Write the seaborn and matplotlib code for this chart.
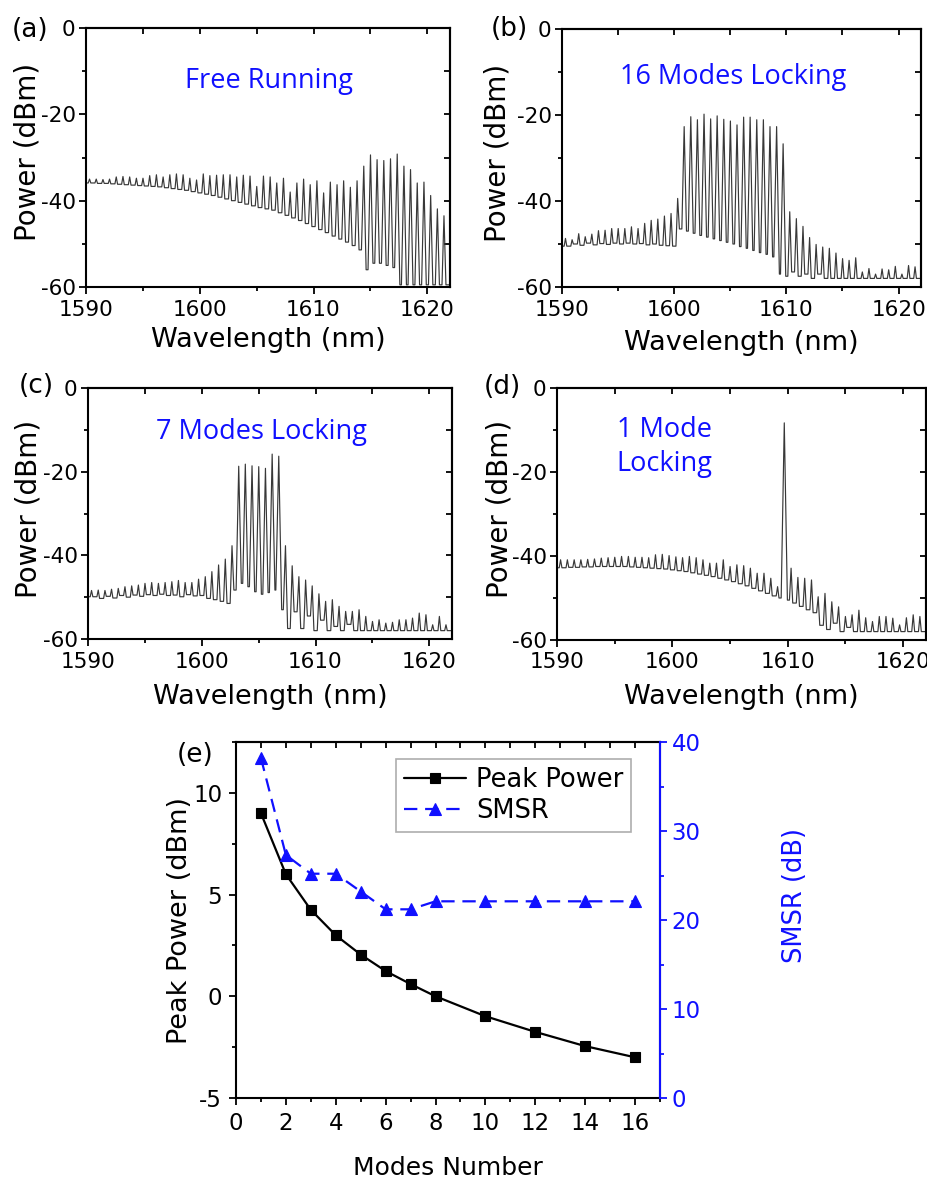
import numpy as np
import pandas as pd
import matplotlib
matplotlib.use("Agg")
import matplotlib.pyplot as plt
import seaborn as sns
from matplotlib.ticker import MultipleLocator

# ---------------- data ----------------
MODE_WL = [1590.31, 1590.90, 1591.49, 1592.07, 1592.66, 1593.25, 1593.84, 1594.43, 1595.01,
           1595.60, 1596.19, 1596.78, 1597.37, 1597.95, 1598.54, 1599.13, 1599.72, 1600.31,
           1600.89, 1601.48, 1602.07, 1602.66, 1603.25, 1603.83, 1604.42, 1605.01, 1605.60,
           1606.19, 1606.77, 1607.36, 1607.95, 1608.54, 1609.13, 1609.71, 1610.30, 1610.89,
           1611.48, 1612.07, 1612.65, 1613.24, 1613.83, 1614.42, 1615.01, 1615.59, 1616.18,
           1616.77, 1617.36, 1617.95, 1618.53, 1619.12, 1619.71, 1620.30, 1620.89, 1621.47]

# (a) free running: mode peak power and floor level after each mode (dBm)
peak_a = [-35.0, -35.0, -35.1, -35.0, -34.5, -34.4, -34.5, -34.8, -34.8, -34.2, -34.0, -34.5,
          -34.0, -33.8, -34.0, -34.8, -35.2, -33.8, -34.2, -34.1, -34.0, -34.0, -34.5, -34.1,
          -34.3, -36.7, -34.3, -34.5, -35.9, -34.8, -38.0, -35.9, -35.0, -36.3, -35.4, -38.2,
          -35.7, -36.3, -35.4, -36.9, -35.4, -32.0, -29.4, -30.5, -30.7, -30.3, -29.2, -32.0,
          -32.8, -35.9, -35.7, -38.8, -41.9, -43.5]
floor_a = [-35.9, -36.0, -36.0, -36.1, -36.2, -36.3, -36.4, -36.5, -36.6, -36.7, -36.8, -37.0,
           -37.2, -37.4, -37.6, -37.9, -38.2, -38.5, -38.8, -39.2, -39.6, -40.0, -40.4, -40.8,
           -41.2, -41.6, -41.9, -42.2, -42.8, -43.4, -44.0, -44.6, -45.3, -46.0, -46.7, -47.4,
           -48.2, -48.9, -49.6, -50.4, -51.4, -56.0, -54.5, -54.5, -55.0, -55.5, -59.5, -59.5,
           -59.5, -59.5, -59.5, -59.5, -59.5, -59.5]

# (b) 16 modes locking
peak_b = [-48.7, -49.0, -47.6, -48.3, -47.7, -46.9, -46.8, -46.4, -46.4, -46.4, -46.0, -46.4,
          -45.2, -44.5, -44.2, -43.5, -42.9, -39.4, -22.7, -20.4, -21.1, -19.8, -20.9, -20.2,
          -21.0, -21.4, -22.3, -20.5, -20.5, -21.1, -21.1, -22.7, -22.7, -26.7, -42.5, -44.1,
          -45.9, -48.5, -50.1, -50.7, -51.0, -52.1, -53.4, -53.8, -53.2, -56.5, -55.7, -57.0,
          -55.8, -56.0, -55.2, -57.0, -55.0, -55.3]
floor_b = [-50.5, -50.0, -50.3, -49.8, -50.2, -49.9, -50.1, -49.8, -50.0, -49.8, -50.0, -49.9,
           -50.2, -50.0, -50.3, -50.4, -50.5, -46.5, -47.0, -47.5, -48.0, -48.4, -48.8, -49.2,
           -49.6, -50.0, -50.6, -51.0, -51.5, -52.0, -52.4, -53.0, -57.0, -57.5, -56.5, -57.5,
           -57.0, -58.0, -57.0, -58.0, -58.0, -58.0, -58.0, -58.0, -58.0, -58.0, -58.0, -58.0,
           -58.0, -58.0, -58.0, -58.0, -58.0, -58.0]

# (c) 7 modes locking
peak_c = [-48.4, -48.3, -48.4, -48.1, -47.9, -47.5, -47.3, -47.1, -46.7, -46.5, -46.7, -46.5,
          -46.3, -46.0, -46.5, -46.5, -45.7, -45.1, -43.9, -42.3, -40.9, -37.7, -18.7, -18.2,
          -18.6, -18.8, -19.2, -15.8, -16.3, -37.7, -42.5, -45.1, -45.9, -47.3, -49.2, -51.0,
          -50.6, -52.2, -53.4, -53.4, -53.0, -54.6, -55.8, -55.4, -56.2, -56.0, -55.4, -55.4,
          -55.0, -53.8, -54.2, -56.6, -54.6, -56.6]
floor_c = [-49.9, -50.3, -49.8, -50.2, -49.6, -50.0, -49.5, -49.8, -49.4, -49.6, -49.3, -49.6,
           -49.5, -49.9, -49.4, -49.7, -49.6, -50.3, -50.6, -51.0, -51.5, -48.3, -46.7, -47.5,
           -48.7, -49.3, -48.9, -48.3, -53.0, -57.5, -53.5, -57.5, -54.5, -58.0, -55.5, -58.0,
           -57.0, -58.0, -56.5, -58.0, -58.0, -58.0, -58.0, -58.0, -58.0, -58.0, -58.0, -58.0,
           -58.0, -58.0, -58.0, -58.0, -58.0, -58.0]

# (d) 1 mode locking
peak_d = [-40.9, -40.9, -40.9, -40.9, -40.8, -40.7, -40.5, -40.4, -40.3, -40.1, -40.1, -40.3,
          -40.3, -40.4, -39.7, -39.6, -39.9, -40.2, -40.4, -40.1, -40.4, -40.9, -41.7, -41.7,
          -40.9, -42.5, -42.1, -42.3, -42.9, -44.1, -44.1, -45.3, -47.3, -8.3, -42.9, -45.1,
          -45.3, -45.7, -49.7, -48.9, -50.9, -52.1, -54.4, -54.0, -52.9, -54.7, -55.6, -54.4,
          -54.4, -54.8, -56.4, -54.7, -54.0, -54.4]
floor_d = [-42.8, -42.7, -42.7, -42.6, -42.6, -42.5, -42.5, -42.5, -42.5, -42.5, -42.6, -42.7,
           -42.8, -42.9, -43.0, -43.1, -43.3, -43.5, -43.7, -44.0, -44.3, -44.6, -44.9, -45.3,
           -45.7, -46.1, -46.6, -47.1, -47.7, -48.3, -48.9, -49.5, -50.0, -50.5, -51.2, -52.0,
           -52.8, -53.5, -56.5, -57.5, -56.0, -58.0, -57.0, -58.0, -58.0, -58.0, -58.0, -58.0,
           -58.0, -58.0, -58.0, -58.0, -58.0, -58.0]

# (e) summary
modes_number = [1, 2, 3, 4, 5, 6, 7, 8, 10, 12, 14, 16]
peak_power = [9.0, 6.0, 4.25, 3.0, 2.05, 1.24, 0.6, 0.0, -0.98, -1.75, -2.45, -3.0]
smsr = [38.2, 27.3, 25.2, 25.2, 23.2, 21.2, 21.2, 22.1, 22.1, 22.1, 22.1, 22.1]

panel_notes = ["Free Running", "16 Modes Locking", "7 Modes Locking", "1 Mode\nLocking"]
panel_tags = ["(a)", "(b)", "(c)", "(d)", "(e)"]

# ---------------- style ----------------
sns.set_style("ticks")
plt.rcParams["font.family"] = ["DejaVu Sans"]
plt.rcParams["axes.linewidth"] = 1.5
plt.rcParams["axes.unicode_minus"] = False
plt.rcParams["text.color"] = "black"
plt.rcParams["axes.labelcolor"] = "black"
plt.rcParams["xtick.color"] = "black"
plt.rcParams["ytick.color"] = "black"

W, H = 928, 1185
fig = plt.figure(figsize=(W / 100, H / 100), dpi=100)
BLUE = "#1010ff"
TRACE = "#383838"


def build_trace(peaks, floors):
    xs = [MODE_WL[0] - 0.31]
    ys = [floors[0]]
    prev = floors[0]
    for lam, p, f in zip(MODE_WL, peaks, floors):
        hw = min(0.11 + 0.004 * (p - min(prev, f)), 0.27)
        xs += [lam - hw, lam, lam + hw]
        ys += [prev, p, f]
        prev = f
    xs.append(MODE_WL[-1] + 0.6)
    ys.append(floors[-1])
    return pd.DataFrame({"Wavelength": xs, "Power": ys})


def px_rect(l, t, r, b):
    return [l / W, 1 - b / H, (r - l) / W, (b - t) / H]


spec_axes = [
    dict(rect=px_rect(86, 28, 450, 287), peaks=peak_a, floors=floor_a, note_xy=(0.503, 0.795),
         ylab=(-0.162, 0.52), xlab=(0.5, -0.205), tag=(30, 30)),
    dict(rect=px_rect(562, 29, 921, 287), peaks=peak_b, floors=floor_b, note_xy=(0.476, 0.814),
         ylab=(-0.18, 0.52), xlab=(0.5, -0.217), tag=(509, 29)),
    dict(rect=px_rect(88, 388, 452, 639), peaks=peak_c, floors=floor_c, note_xy=(0.477, 0.823),
         ylab=(-0.164, 0.52), xlab=(0.5, -0.231), tag=(36, 386)),
    dict(rect=px_rect(557, 388, 926, 640), peaks=peak_d, floors=floor_d, note_xy=(0.291, 0.766),
         ylab=(-0.157, 0.52), xlab=(0.5, -0.226), tag=(502, 387)),
]

for i, spec in enumerate(spec_axes):
    ax = fig.add_axes(spec["rect"])
    df = build_trace(spec["peaks"], spec["floors"])
    sns.lineplot(data=df, x="Wavelength", y="Power", sort=False, estimator=None,
                 color=TRACE, lw=0.85, ax=ax)
    ax.set_xlim(1590, 1622)
    ax.set_ylim(-60, 0)
    ax.xaxis.set_major_locator(MultipleLocator(10))
    ax.xaxis.set_minor_locator(MultipleLocator(5))
    ax.yaxis.set_major_locator(MultipleLocator(20))
    ax.yaxis.set_minor_locator(MultipleLocator(10))
    ax.tick_params(which="both", direction="out", top=False, right=False,
                   labelsize=15.5, width=1.3, colors="black")
    ax.tick_params(axis="x", which="major", length=5, pad=4)
    ax.tick_params(axis="y", which="major", length=5, pad=2.5)
    ax.tick_params(which="minor", length=3)
    for s in ax.spines.values():
        s.set_linewidth(1.5)
        s.set_color("black")
    sx = ax.secondary_xaxis("top")
    sx.xaxis.set_major_locator(MultipleLocator(5))
    sx.tick_params(direction="in", length=4, width=1.3, labeltop=False)
    sy = ax.secondary_yaxis("right")
    sy.yaxis.set_major_locator(MultipleLocator(10))
    sy.tick_params(direction="in", length=4, width=1.3, labelright=False)
    ax.set_xlabel("Wavelength (nm)", fontsize=19.5)
    ax.set_ylabel("Power (dBm)", fontsize=20)
    ax.xaxis.set_label_coords(*spec["xlab"])
    ax.xaxis.label.set_verticalalignment("center")
    ax.yaxis.set_label_coords(*spec["ylab"])
    ax.yaxis.label.set_verticalalignment("center")
    ax.text(*spec["note_xy"], panel_notes[i], transform=ax.transAxes, ha="center",
            va="center", color=BLUE, fontsize=19.5, family=["Open Sans", "DejaVu Sans"],
            linespacing=1.25, multialignment="center")
    tx, ty = spec["tag"]
    fig.text(tx / W, 1 - ty / H, panel_tags[i], ha="center", va="center", fontsize=19)

# ---------------- panel (e) ----------------
ax = fig.add_axes(px_rect(236, 742, 660, 1098))
sns.lineplot(x=modes_number, y=peak_power, marker="s", color="black", lw=1.6,
             markersize=6.5, mec="black", mew=0.8, ax=ax, label="Peak Power", legend=False)
ax2 = ax.twinx()
sns.lineplot(x=modes_number, y=smsr, marker="^", color=BLUE, lw=1.6, markersize=8,
             mec=BLUE, mew=0.8, linestyle=(0, (6, 3.5)), ax=ax2, label="SMSR", legend=False)
ax.set_xlim(0, 17)
ax.set_ylim(-5, 12.5)
ax2.set_ylim(0, 40)
ax.xaxis.set_major_locator(MultipleLocator(2))
ax.xaxis.set_minor_locator(MultipleLocator(1))
ax.yaxis.set_major_locator(MultipleLocator(5))
ax.yaxis.set_minor_locator(MultipleLocator(2.5))
ax.tick_params(which="both", direction="out", top=False, right=False, labelsize=16.5,
               width=1.3, colors="black")
ax.tick_params(which="major", length=5, pad=5)
ax.tick_params(which="minor", length=3)
ax2.yaxis.set_major_locator(MultipleLocator(10))
ax2.yaxis.set_minor_locator(MultipleLocator(5))
ax2.tick_params(which="both", direction="out", labelsize=16.5, width=1.3, colors=BLUE)
ax2.tick_params(which="major", length=5)
ax2.tick_params(which="minor", length=3)
for s in ax.spines.values():
    s.set_linewidth(1.5)
    s.set_color("black")
for name, s in ax2.spines.items():
    s.set_linewidth(1.5)
    s.set_visible(name == "right")
ax2.spines["right"].set_color(BLUE)
sx = ax.secondary_xaxis("top")
sx.xaxis.set_major_locator(MultipleLocator(1))
sx.tick_params(direction="in", length=4, width=1.3, labeltop=False)

ax.set_xlabel("Modes Number", fontsize=18)
ax.set_ylabel("Peak Power (dBm)", fontsize=19.5)
ax2.set_ylabel("SMSR (dB)", fontsize=18.5, color=BLUE)
ax.xaxis.set_label_coords(0.5, -0.197)
ax.xaxis.label.set_verticalalignment("center")
ax.yaxis.set_label_coords(-0.132, 0.5)
ax.yaxis.label.set_verticalalignment("center")
ax2.yaxis.set_label_coords(1.318, 0.57)
ax2.yaxis.label.set_verticalalignment("center")

handles = ax.get_lines()[:1] + ax2.get_lines()[:1]
leg = ax2.legend(handles, [h.get_label() for h in handles], loc="upper right",
                 bbox_to_anchor=(0.932, 0.952), frameon=True, fancybox=False,
                 edgecolor="#9a9a9a", fontsize=18.5, handlelength=2.4, borderpad=0.3,
                 labelspacing=0.2, handletextpad=0.4, borderaxespad=0)
leg.get_frame().set_linewidth(1.2)
fig.text(195 / W, 1 - 755 / H, panel_tags[4], ha="center", va="center", fontsize=19)

fig.savefig("out.png", dpi=100)
